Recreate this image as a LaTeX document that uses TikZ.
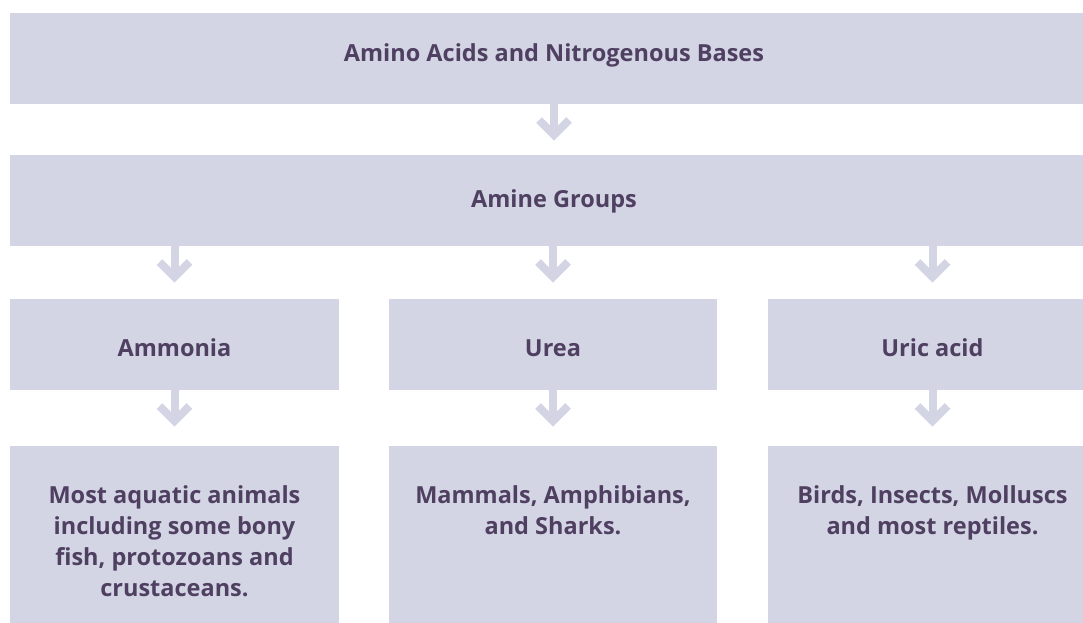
\documentclass[tikz,border=0pt]{standalone}
\usepackage{fontspec}
\setmainfont{Open Sans}[Ligatures=NoCommon]
\definecolor{boxfill}{HTML}{D3D5E5}
\definecolor{txt}{HTML}{4F4062}
\tikzset{
  panel/.style={fill=boxfill, draw=none, inner sep=0pt, outer sep=0pt},
  label/.style={text=txt, font=\bfseries\fontsize{23.5}{31}\selectfont, inner sep=0pt, align=center},
  shaft/.style={draw=boxfill, line width=8pt},
  chev/.style={draw=boxfill, line width=8pt, miter limit=10},
}
\begin{document}
\begin{tikzpicture}[x=1pt,y=-1pt]
\clip (0,0) rectangle (1083,623);
\fill[white] (0,0) rectangle (1083,623);
% boxes
\path[panel] (10,13) rectangle (1097,104) node[pos=0.5] (top) {};
\path[panel] (10,155) rectangle (1097,246) node[pos=0.5] (amine) {};
\path[panel] (10,299) rectangle (339,390) node[pos=0.5] (amm) {};
\path[panel] (389,299) rectangle (717,390) node[pos=0.5] (urea) {};
\path[panel] (768,299) rectangle (1097,390) node[pos=0.5] (uric) {};
\path[panel] (10,446) rectangle (339,680) node[pos=0.5] (b1) {};
\path[panel] (389,446) rectangle (717,680) node[pos=0.5] (b2) {};
\path[panel] (768,446) rectangle (1097,680) node[pos=0.5] (b3) {};
% texts
\node[label, anchor=base] (t1) at (554,62) {Amino Acids and Nitrogenous Bases};
\node[label, anchor=base] (t2) at (554,207) {Amine Groups};
\node[label, anchor=base] (t3) at (174.5,356) {Ammonia};
\node[label, anchor=base] (t4) at (553,356) {Urea};
\node[label, anchor=base] (t5) at (932.5,356) {Uric acid};
\node[label, anchor=north] (t6) at (174.5,485) {Most aquatic animals\\including some bony\\fish, protozoans and\\crustaceans.};
\node[label, anchor=north] (t7) at (553,485) {Mammals, Amphibians,\\and Sharks.};
\node[label, anchor=north] (t8) at (932.5,485) {Birds, Insects, Molluscs\\and most reptiles.};
% arrows
\foreach \x/\y/\n in {554/104/a1, 174.5/246/a2, 553/246/a3, 932.5/246/a4, 174.5/390/a5, 553/390/a6, 932.5/390/a7}{
  \draw[shaft] (\x,\y) -- (\x,\y+31) coordinate (\n);
  \draw[chev] ([shift={(-15,-15)}]\n) -- (\n) -- ([shift={(15,-15)}]\n);
}
\end{tikzpicture}
\end{document}
